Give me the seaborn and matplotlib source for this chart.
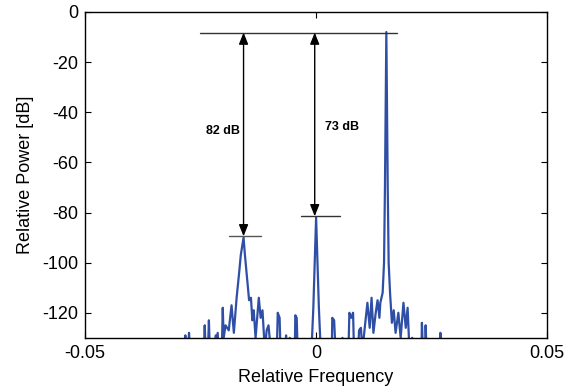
import numpy as np
import pandas as pd
import matplotlib
matplotlib.use('Agg')
import matplotlib.pyplot as plt
import seaborn as sns

# spectrum (frequency, power in dB)
freq = [
    -0.0300, -0.0285, -0.0283, -0.0281, -0.0277, -0.0275, -0.0273,
    -0.0243, -0.0241, -0.0239, -0.0234, -0.0232, -0.0230,
    -0.0218, -0.0217, -0.0216, -0.0213, -0.0211,
    -0.0204, -0.0202, -0.0200, -0.0196, -0.0189, -0.0183, -0.0178,
    -0.0172, -0.0166, -0.0163, -0.0157, -0.0154, -0.0151, -0.0145,
    -0.0141, -0.0138, -0.0135, -0.0131, -0.0124, -0.0120, -0.0116,
    -0.0111, -0.0107, -0.0103, -0.0098, -0.0085, -0.0083, -0.0079,
    -0.0077, -0.0066, -0.0065, -0.0064, -0.0059, -0.0057, -0.0055,
    -0.0046, -0.0045, -0.0042, -0.0040,
    -0.0010, -0.0006, -0.0003, 0.0000, 0.0003, 0.0006, 0.0010,
    0.0034, 0.0035, 0.0039, 0.0042,
    0.0055, 0.0057, 0.0060,
    0.0070, 0.0072, 0.0076, 0.0080, 0.0082,
    0.0091, 0.0093, 0.0097, 0.0100, 0.0103,
    0.0111, 0.0116, 0.0120, 0.0124, 0.0129, 0.0133, 0.0137, 0.0139,
    0.0144, 0.0147, 0.0149, 0.0152, 0.0155, 0.0157, 0.0160,
    0.0164, 0.0168, 0.0172, 0.0178, 0.0183, 0.0189, 0.0194, 0.0198,
    0.0202, 0.0208, 0.0213,
    0.0228, 0.0229, 0.0231, 0.0236, 0.0237, 0.0239,
    0.0268, 0.0269, 0.0271, 0.0300,
]
power = [
    -135, -135, -129, -135, -135, -128, -135,
    -135, -125, -135, -135, -123, -135,
    -135, -129, -135, -128, -135,
    -135, -118, -130, -125, -127, -117, -128,
    -114, -103, -97, -90, -97, -103, -115,
    -114, -123, -119, -130, -114, -122, -119,
    -135, -127, -125, -135, -135, -120, -122,
    -135, -135, -129, -135, -135, -130, -135,
    -135, -121, -122, -135,
    -135, -118, -100, -82, -100, -118, -135,
    -135, -122, -123, -135,
    -135, -130, -135,
    -135, -120, -122, -120, -135,
    -135, -127, -126, -135, -130,
    -116, -126, -114, -128, -120, -115, -122, -116,
    -112, -100, -70, -8, -70, -100, -112,
    -124, -119, -128, -120, -130, -116, -126, -118,
    -135, -130, -135,
    -135, -124, -135, -135, -125, -135,
    -135, -128, -135, -135,
]

xticks = [-0.05, 0, 0.05]
xtick_labels = ['-0.05', '0', '0.05']
yticks = [0, -20, -40, -60, -80, -100, -120]

df = pd.DataFrame({'freq': freq, 'power': power})

sns.set_style('ticks')
plt.rcParams['font.family'] = ['Liberation Sans', 'DejaVu Sans']
plt.rcParams['axes.unicode_minus'] = False
plt.rcParams['text.color'] = 'k'
plt.rcParams['axes.labelcolor'] = 'k'

fig = plt.figure(figsize=(5.67, 3.87), dpi=100)
ax = fig.add_axes([0.150, 0.127, 0.815, 0.842])

sns.lineplot(data=df, x='freq', y='power', estimator=None, sort=False,
             color='#2f4fa6', linewidth=1.6, ax=ax)

# reference lines
ax.plot([-0.0252, 0.0176], [-8.2, -8.2], color='#333333', lw=1)
ax.plot([-0.0189, -0.0120], [-89.5, -89.5], color='#555555', lw=1)
ax.plot([-0.0033, 0.0051], [-81.5, -81.5], color='#333333', lw=1)

# double arrows
ax.annotate('', xy=(-0.0157, -8.2), xytext=(-0.0157, -89.5),
            arrowprops=dict(arrowstyle='<|-|>,head_length=0.5,head_width=0.2',
                            color='k', lw=1, mutation_scale=14,
                            shrinkA=0, shrinkB=0))
ax.annotate('', xy=(-0.0003, -8.2), xytext=(-0.0003, -81.5),
            arrowprops=dict(arrowstyle='<|-|>,head_length=0.5,head_width=0.2',
                            color='k', lw=1, mutation_scale=14,
                            shrinkA=0, shrinkB=0))

ax.text(-0.0164, -47.5, '82 dB', ha='right', va='center',
        fontsize=9, fontweight='bold', color='k')
ax.text(0.0020, -46, '73 dB', ha='left', va='center',
        fontsize=9, fontweight='bold', color='k')

ax.set_xlim(-0.05, 0.05)
ax.set_ylim(-130, 0)
ax.set_xticks(xticks)
ax.set_xticklabels(xtick_labels)
ax.set_yticks(yticks)
ax.tick_params(direction='in', length=4, width=0.8, labelsize=13,
               top=True, right=True, colors='k', pad=5)
for s in ax.spines.values():
    s.set_visible(True)
    s.set_color('k')
    s.set_linewidth(1)

ax.set_xlabel('Relative Frequency', fontsize=13, labelpad=5)
ax.set_ylabel('Relative Power [dB]', fontsize=13, labelpad=6)

fig.savefig('out.png', dpi=100)
